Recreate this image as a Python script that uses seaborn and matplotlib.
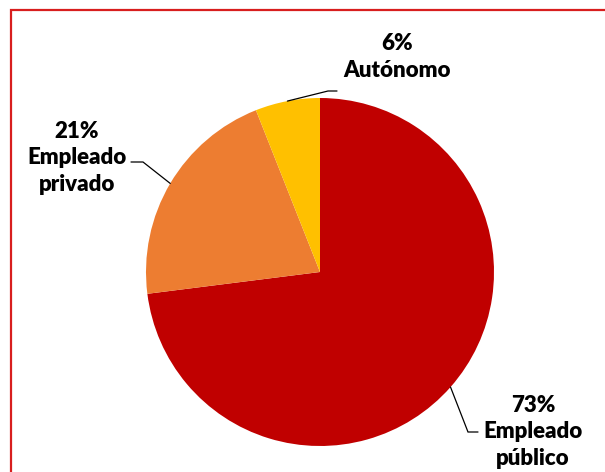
import numpy as np
import matplotlib
matplotlib.use('Agg')
import matplotlib.pyplot as plt
from matplotlib.patches import Rectangle
import seaborn as sns

# Data
categories = ['Empleado\npúblico', 'Empleado\nprivado', 'Autónomo']
values = [73, 21, 6]
colors = ['#C00000', '#ED7D31', '#FFC000']

sns.set_theme(style='white')
plt.rcParams['font.family'] = ['Lato', 'DejaVu Sans']

W, H = 605, 472
fig = plt.figure(figsize=(W / 100, H / 100), dpi=100)
ax = fig.add_axes([0, 0, 1, 1])

# chart frame (runs off right and bottom edges)
fig.patches.append(Rectangle((11 / W, -0.1), 1.2, (H - 10) / H + 0.1,
                             transform=fig.transFigure, fill=False,
                             edgecolor='#d81e1e', linewidth=1.6))

cx, cy, r = 320, 200, 174
wedges, _ = ax.pie(values, colors=colors, startangle=90, counterclock=False,
                   center=(cx, cy), radius=r, frame=True,
                   wedgeprops=dict(linewidth=0))
ax.set_xlim(0, W)
ax.set_ylim(0, H)
ax.set_aspect('equal')
ax.axis('off')

# label layout: text centre, leader elbow, leader end
layout = [
    dict(text=(533, 40), elbow=(468, 40), end=(478, 40)),
    dict(text=(77, 314), elbow=(143, 310), end=(131, 310)),
    dict(text=(397, 415), elbow=(328, 381), end=(337, 381)),
]

for w, v, lab, lay in zip(wedges, values, categories, layout):
    mid = np.deg2rad((w.theta1 + w.theta2) / 2)
    px, py = cx + r * np.cos(mid), cy + r * np.sin(mid)
    ex, ey = lay['elbow']
    nx, ny = lay['end']
    ax.plot([px, ex, nx], [py, ey, ny], color='black', linewidth=0.9,
            solid_joinstyle='miter')
    ax.text(lay['text'][0], lay['text'][1], f'{v}%\n{lab}', ha='center',
            va='center', multialignment='center', fontsize=16,
            fontweight='heavy', color='black', linespacing=1.32)

fig.savefig('out.png', dpi=100)
